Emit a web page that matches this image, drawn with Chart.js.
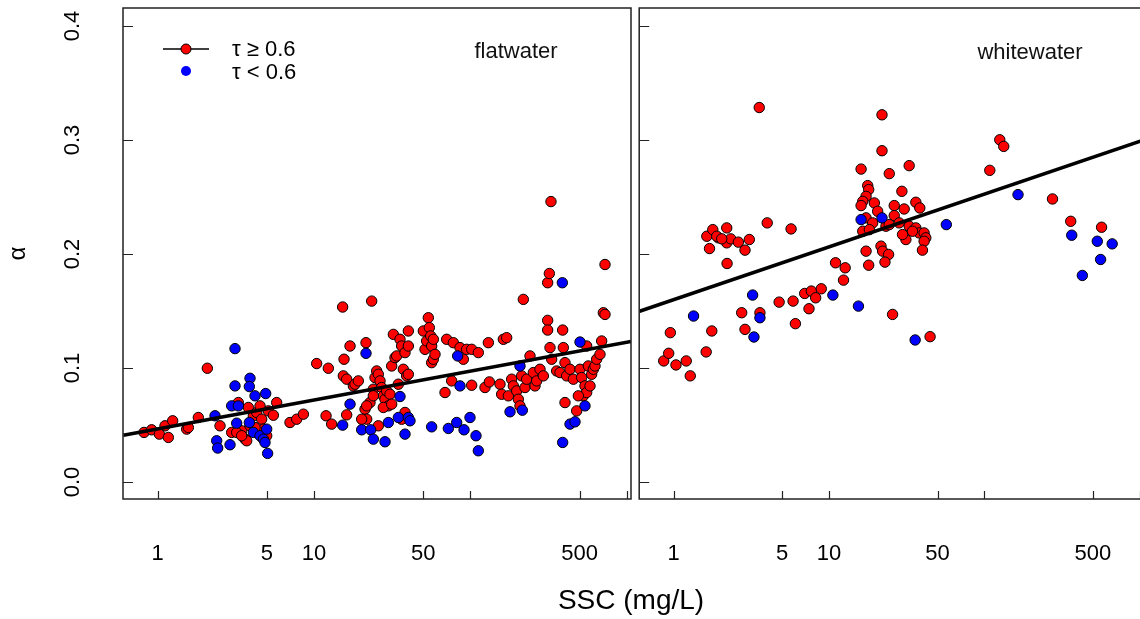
<!DOCTYPE html>
<html><head><meta charset="utf-8">
<script src="https://cdn.jsdelivr.net/npm/chart.js@4"></script>
<style>
html,body{margin:0;padding:0;background:#fff;overflow:hidden;width:1140px;height:619px;}
#wrap{position:relative;width:1140px;height:619px;overflow:hidden;background:#fff;}
canvas{position:absolute;top:0;}
#c1{left:0;} #c2{left:633px;}
#xt{position:absolute;left:631px;top:586px;transform:translateX(-50%);font:28px "Liberation Sans",Arial,sans-serif;line-height:28px;color:#000;white-space:nowrap;}
</style></head>
<body><div id="wrap"><canvas id="c1" width="640" height="619"></canvas><canvas id="c2" width="520" height="619"></canvas><div id="xt">SSC (mg/L)</div></div>
<script>
// ---------- data ----------
const xTickValues = [1, 5, 10, 50, 100, 500, 1000];
const xTickLabels = ['1', '5', '10', '50', '', '500', ''];
const yTickValues = [0, 0.1, 0.2, 0.3, 0.4];

const flatRedSSC = [0.818,0.915,1.025,1.114,1.17,1.247,1.533,1.571,1.82,2.078,2.505,2.974,3.281,3.446,3.62,3.71,3.802,3.896,4.092,4.299,4.627,4.743,4.981,5.105,5.495,5.77,3.202,3.446,4.515,4.194,
7.02,7.75,8.55,10.4,12.35,11.94,12.97,15.25,15.56,16.18,17.0,15.4,16.18,17.85,18.29,19.21,21.51,21.2,21.73,23.38,23.96,24.56,25.18,25.79,26.44,27.1,27.76,28.46,29.16,29.89,30.63,31.4,32.18,32.97,33.79,34.63,35.49,36.37,37.27,38.2,39.15,40.12,40.12,40.12,25.79,36.37,38.2,22.81,21.73,20.18,23.96,27.76,31.4,
50.04,51.29,52.57,53.86,54.66,55.75,56.57,56.57,57.99,59.43,57.99,68.87,70.57,75.98,77.87,85.9,90.23,94.73,102.0,102.0,112.5,124.1,130.4,132.3,154.8,158.6,162.6,170.8,175.1,183.8,188.4,197.9,202.8,207.8,213.0,218.3,223.7,229.3,240.8,252.9,259.2,265.7,279.0,293.1,
312.4,320.2,312.4,312.4,323.3,331.4,356.7,374.6,389.6,393.4,403.2,403.2,413.2,434.1,456.0,478.9,503.0,515.4,528.2,541.3,554.8,568.6,582.7,597.1,612.0,627.2,642.7,675.1,692.0,709.2,726.9,726.9,554.8,490.8,328];
const flatRedAlpha = [0.0435,0.0458,0.0420,0.0493,0.0391,0.0537,0.0464,0.0478,0.0566,0.0998,0.0493,0.0435,0.0697,0.0449,0.0376,0.0362,0.0654,0.0493,0.0581,0.0610,0.0551,0.0464,0.0406,0.0624,0.0586,0.0697,0.0435,0.0406,0.0668,0.0478,
0.0522,0.0551,0.0595,0.1039,0.0998,0.0581,0.0508,0.1535,0.1077,0.0589,0.1193,0.0931,0.0902,0.0843,0.0858,0.0887,0.1222,0.0639,0.0551,0.1587,0.0814,0.0916,0.0974,0.0945,0.0887,0.0829,0.0756,0.0726,0.0799,0.0668,0.0770,0.1018,0.1295,0.1091,0.1106,0.0858,0.1252,0.1193,0.0989,0.1135,0.0931,0.1325,0.1193,0.0945,0.0493,0.0551,0.0610,0.0697,0.0668,0.0551,0.0756,0.0654,0.0683,
0.1325,0.1164,0.1237,0.1441,0.1354,0.1281,0.1193,0.1047,0.1077,0.1120,0.1252,0.0785,0.1252,0.0887,0.1222,0.1179,0.1077,0.1164,0.1164,0.0849,0.1135,0.0829,0.1222,0.0878,0.0858,0.0770,0.1252,0.1266,0.0756,0.0902,0.0843,0.0799,0.0726,0.0668,0.0931,0.1602,0.0829,0.0902,0.1106,0.0960,0.0843,0.0887,0.0989,0.0931,
0.1748,0.1829,0.1418,0.1333,0.1179,0.1077,0.0974,0.0960,0.1333,0.1179,0.1047,0.0697,0.0931,0.0989,0.0902,0.0624,0.0989,0.0916,0.0756,0.0843,0.0785,0.1018,0.0843,0.0945,0.0989,0.1018,0.1077,0.1120,0.1237,0.1485,0.1470,0.1908,0.1193,0.0756,0.246];

const flatBlueSSC = [3.124,3.896,3.858,3.124,4.194,4.908,2.974,3.281,2.327,3.202,3.858,4.092,4.515,4.743,4.981,2.385,2.42,2.902,5.05,4.861,
21.51,35.49,17.0,15.25,20.18,23.04,23.96,28.46,29.89,34.63,40.12,41.12,38.2,56.57,72.33,81.79,91.12,99.5,108.7,112.5,82.99,85.9,
179.4,215.1,207.8,387.7,389.6,434.1,467.3,503.0,541.3];
const flatBlueAlpha = [0.1170,0.0910,0.0837,0.0843,0.0756,0.0776,0.0668,0.0668,0.0581,0.0516,0.0522,0.0435,0.0406,0.0376,0.0464,0.0362,0.0298,0.0327,0.0251,0.0347,
0.1129,0.0750,0.0683,0.0499,0.0458,0.0458,0.0376,0.0353,0.0522,0.0566,0.0566,0.0537,0.0420,0.0484,0.0470,0.0522,0.0458,0.0566,0.0406,0.0274,0.1106,0.0843,
0.0616,0.0630,0.1018,0.1748,0.0347,0.0508,0.0528,0.1228,0.0668];

const whiteRedSSC = [3.556,21.93,21.93,16.09,24.43,32.82,29.45,17.75,18.01,17.32,16.49,16.09,19.58,20.57,26.3,30.48,26.3,36.22,38.41,17.32,19.11,23.26,24.43,16.49,18.19,28.31,32.82,36.22,38.04,40.95,41.98,40.95,31.25,29.74,34.47,39.95,17.32,21.61,22.14,24.19,22.92,18.01,11.02,12.71,12.4,
1.635,1.786,1.942,2.196,2.196,2.33,2.609,2.879,3.069,1.701,2.207,4.002,5.7,1.895,2.04,
125.7,133.3,108.4,274.6,359.8,568.5,
0.952,1.76,1.619,2.741,2.879,3.592,4.775,5.871,6.077,6.975,7.695,8.204,8.918,7.434,25.66,44.74,
0.863,0.929,1.035,1.205,1.279];
const whiteRedAlpha = [0.3285,0.3221,0.2906,0.2745,0.2705,0.2775,0.2550,0.2600,0.2565,0.2506,0.2462,0.2425,0.2448,0.2375,0.2425,0.2395,0.2337,0.2454,0.2404,0.2317,0.2273,0.2244,0.2258,0.2200,0.2214,0.2273,0.2244,0.2229,0.2185,0.2185,0.2142,0.2112,0.2127,0.2171,0.2200,0.2034,0.2025,0.2069,0.2025,0.1996,0.1929,0.1902,0.1923,0.1879,0.1771,
0.2156,0.2214,0.2142,0.2229,0.2098,0.2133,0.2104,0.2034,0.2127,0.2048,0.1917,0.2273,0.2220,0.2156,0.2133,
0.3002,0.2944,0.2734,0.2483,0.2287,0.2235,
0.1310,0.1325,0.1141,0.1485,0.1339,0.1485,0.1578,0.1587,0.1389,0.1654,0.1675,0.1616,0.1695,0.1520,0.1470,0.1275,
0.1062,0.1129,0.1027,0.1062,0.0931];

const whiteBlueSSC = [16.09,21.93,56.92,164.7,365.2,533.4,665.2,560.2,427.4,1.343,3.223,3.592,3.287,10.59,15.47,35.86];
const whiteBlueAlpha = [0.2302,0.2317,0.2258,0.2521,0.2165,0.2112,0.2089,0.1952,0.1812,0.1456,0.1640,0.1441,0.1272,0.1640,0.1543,0.1246];

// fitted lines (end points)
const flatFitSSC = [0.603, 1066];
const flatFitAlpha = [0.0411, 0.1233];
const whiteFitSSC = [0.603, 1066];
const whiteFitAlpha = [0.1498, 0.3002];

const X_MIN = 0.603, X_MAX = 1066, Y_MIN = -0.0149, Y_MAX = 0.4158;

// ---------- chart ----------
Chart.defaults.font.family = '"Liberation Sans", Arial, sans-serif';
Chart.defaults.color = '#000';

const pts = (xs, ys) => xs.map((x, i) => ({x: x, y: ys[i]}));
const noPad = s => { s.paddingTop = 0; s.paddingBottom = 0; s.paddingLeft = 0; s.paddingRight = 0; };

const framePlugin = {
  id: 'frame',
  afterDatasetsDraw(chart) {
    const {ctx, chartArea: a, scales: {x, y}} = chart;
    ctx.save();
    ctx.strokeStyle = '#222';
    ctx.lineWidth = 1.5;
    ctx.strokeRect(a.left, a.top, a.right - a.left, a.bottom - a.top);
    ctx.lineWidth = 1.2;
    ctx.beginPath();
    x.ticks.forEach(t => { const px = Math.round(x.getPixelForValue(t.value)) + 0.5; ctx.moveTo(px, a.bottom); ctx.lineTo(px, a.bottom - 8); });
    y.ticks.forEach(t => { const py = Math.round(y.getPixelForValue(t.value)) + 0.5; ctx.moveTo(a.left, py); ctx.lineTo(a.left + 10, py); });
    ctx.stroke();
    ctx.restore();
  }
};

const panelPlugin = {
  id: 'panel',
  afterDraw(chart, args, opts) {
    const ctx = chart.ctx;
    ctx.save();
    ctx.fillStyle = '#111';
    ctx.font = '22px "Liberation Sans", Arial, sans-serif';
    ctx.textAlign = 'center';
    ctx.textBaseline = 'middle';
    ctx.fillText(opts.text, opts.x, opts.y);
    if (opts.legend) {
      ctx.strokeStyle = '#000';
      ctx.lineWidth = 1.5;
      ctx.beginPath(); ctx.moveTo(163, 49); ctx.lineTo(209, 49); ctx.stroke();
      ctx.beginPath(); ctx.arc(186, 49, 5, 0, Math.PI * 2);
      ctx.fillStyle = '#ff0000'; ctx.fill(); ctx.lineWidth = 1; ctx.stroke();
      ctx.beginPath(); ctx.arc(186, 71, 5, 0, Math.PI * 2);
      ctx.fillStyle = '#0000ff'; ctx.fill();
      ctx.fillStyle = '#000';
      ctx.textAlign = 'left';
      ctx.fillText('τ ≥ 0.6', 232, 50);
      ctx.fillText('τ < 0.6', 232, 73);
    }
    ctx.restore();
  }
};

function makePanel(canvasId, red, blue, fit, panelOpts, showY) {
  const yScale = {
    type: 'linear', min: Y_MIN, max: Y_MAX,
    afterBuildTicks: s => { s.ticks = yTickValues.map(v => ({value: v})); },
    afterFit: s => { s.width = showY ? 123 : 3; noPad(s); },
    grid: {display: false}, border: {display: false},
    ticks: {display: showY, minRotation: 90, maxRotation: 90, crossAlign: 'center', padding: 27,
            font: {size: 22}, color: '#000', callback: v => Number(v).toFixed(1)},
    title: {display: showY, text: 'α', font: {size: 24}, padding: {top: 4, bottom: 0}, color: '#000'}
  };
  return new Chart(document.getElementById(canvasId), {
    type: 'scatter',
    data: {
      datasets: [
        {type: 'scatter', showLine: true, data: fit, borderColor: '#000', backgroundColor: '#000',
         borderWidth: 3.5, pointRadius: 0, pointHoverRadius: 0, fill: false},
        {data: blue, backgroundColor: '#0000ff', borderColor: '#000', borderWidth: 1, pointRadius: 5.2, pointHoverRadius: 5.2},
        {data: red, backgroundColor: '#ff0000', borderColor: '#000', borderWidth: 1, pointRadius: 5.2, pointHoverRadius: 5.2}
      ]
    },
    options: {
      responsive: false, animation: false,
      layout: {padding: {left: 0, right: 9, top: 8, bottom: 0}},
      plugins: {legend: {display: false}, tooltip: {enabled: false}, panel: panelOpts},
      scales: {
        x: {
          type: 'logarithmic', min: X_MIN, max: X_MAX,
          afterBuildTicks: s => { s.ticks = xTickValues.map(v => ({value: v})); },
          afterFit: s => { s.height = 120; noPad(s); },
          grid: {display: false}, border: {display: false},
          ticks: {autoSkip: false, minRotation: 0, maxRotation: 0, padding: 34, font: {size: 22}, color: '#000',
                  callback: (v, i) => xTickLabels[i]}
        },
        y: yScale
      }
    },
    plugins: [framePlugin, panelPlugin]
  });
}

makePanel('c1', pts(flatRedSSC, flatRedAlpha), pts(flatBlueSSC, flatBlueAlpha), pts(flatFitSSC, flatFitAlpha),
  {text: 'flatwater', x: 516, y: 52, legend: true}, true);
makePanel('c2', pts(whiteRedSSC, whiteRedAlpha), pts(whiteBlueSSC, whiteBlueAlpha), pts(whiteFitSSC, whiteFitAlpha),
  {text: 'whitewater', x: 397, y: 53, legend: false}, false);
</script>
</body></html>
